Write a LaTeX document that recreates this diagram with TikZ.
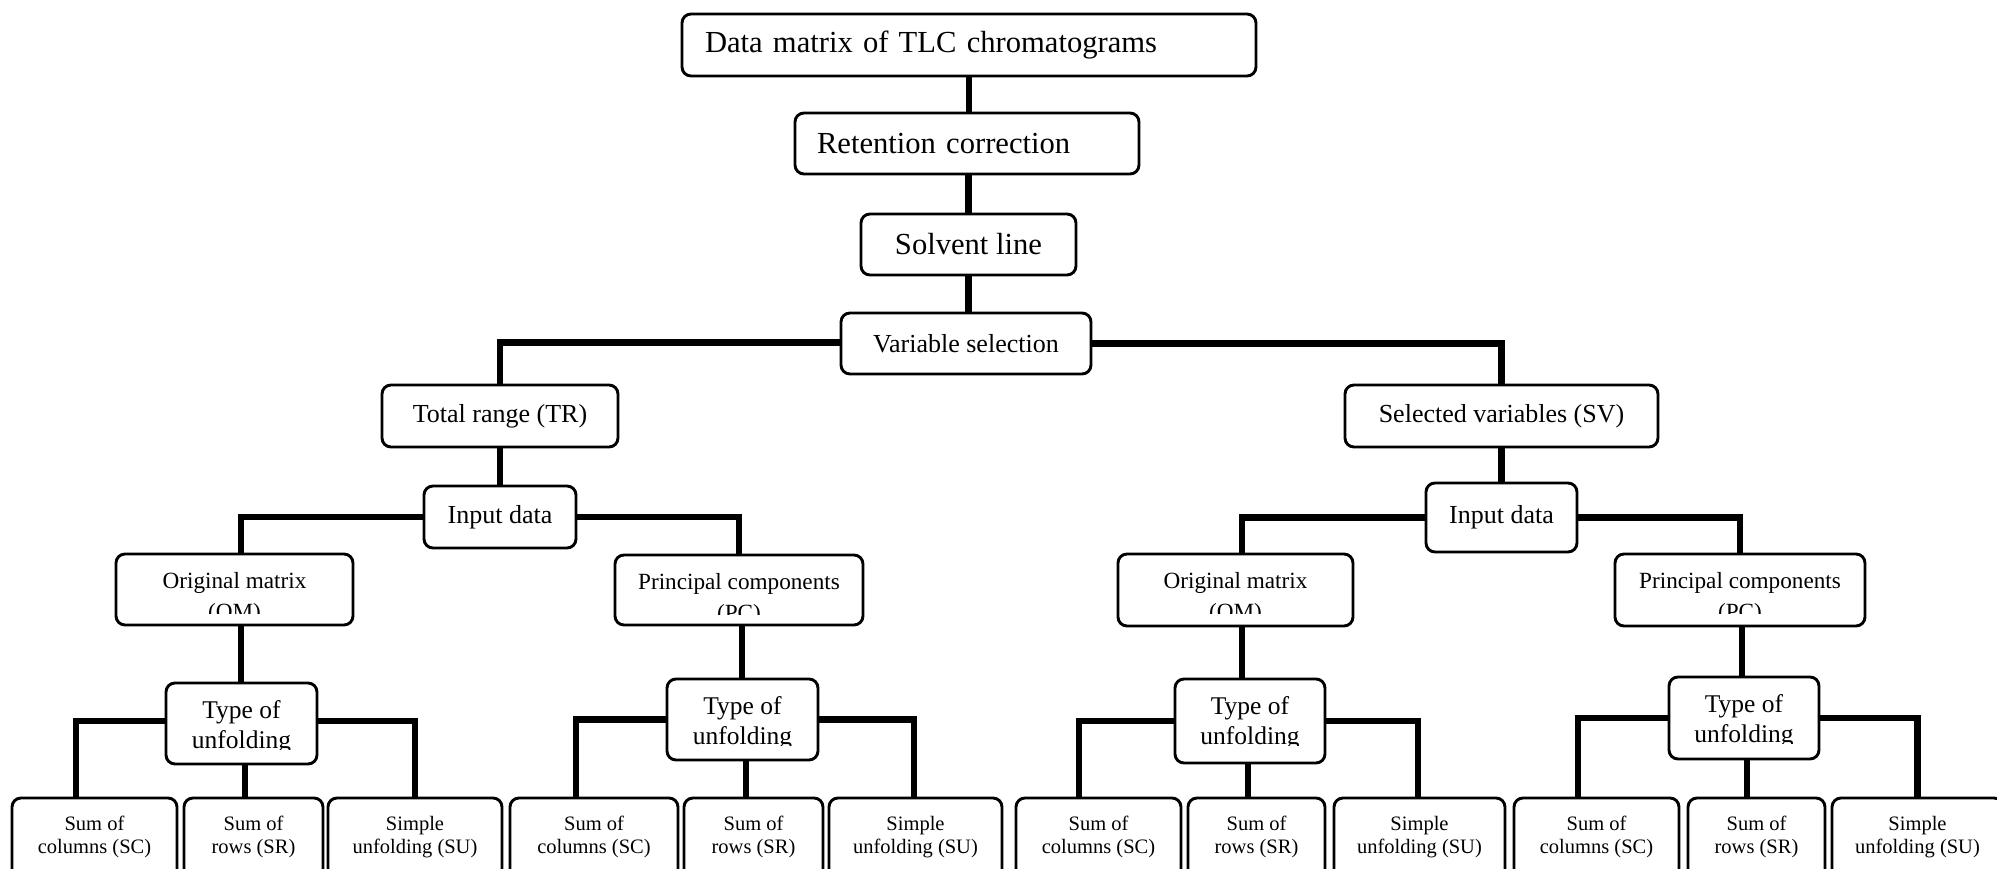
\documentclass[tikz,border=0pt]{standalone}
\usepackage{fontspec}
\setmainfont{Liberation Serif}
\usetikzlibrary{calc}
\pgfdeclarelayer{bg}
\pgfsetlayers{bg,main}
\tikzset{
  box/.style={draw, line width=2.9pt, rounded corners=9pt, fill=white, inner sep=0pt, align=center},
  conn/.style={line width=6.2pt},
  fA/.style={font=\fontsize{30.6}{36}\selectfont},
  fB/.style={font=\fontsize{26}{30}\selectfont},
  fC/.style={font=\fontsize{23.2}{31}\selectfont},
  fD/.style={font=\fontsize{25.5}{30}\selectfont},
  fE/.style={font=\fontsize{20.5}{23}\selectfont},
}
% box with text inside: [opts]{name}{l}{t}{r}{b}{text}
\newcommand\bx[7][]{\node[box,#1,minimum width={(#5-#3)*1pt},minimum height={(#6-#4)*1pt}] (#2) at ({(#3+#5)/2},{(#4+#6)/2}) {#7};}
% box with clipped two-line text: {name}{l}{t}{r}{b}{last baseline from top}{clip from top}{style}{text}
\newcommand\cbx[9]{%
  \node[box,minimum width={(#4-#2)*1pt},minimum height={(#5-#3)*1pt}] (#1) at ({(#2+#4)/2},{(#3+#5)/2}) {};
  \begin{scope}
    \clip (#2,#3) rectangle (#4,{#3+#7});
    \node[#8,align=center,anchor=base,inner sep=0pt] (#1t) at ({(#2+#4)/2},{#3+#6}) {#9};
  \end{scope}}
\begin{document}
\begin{tikzpicture}[x=1pt,y=-1pt]
\useasboundingbox (0,0) rectangle (1997,868);
\clip (0,0) rectangle (1997,868);

\bx[fA,text width={(1256-682-46)*1pt},inner xsep=23pt,align=left]{top}{682}{14}{1256}{76}{Data matrix of TLC chromatograms}
\bx[fA,text width={(1139-795-44)*1pt},inner xsep=22pt,align=left]{ret}{795}{113}{1139}{174}{Retention correction}
\bx[fA]{sol}{861}{214}{1076}{275}{Solvent line}
\bx[fB,yshift=2pt]{vs}{841}{315}{1091}{376}{Variable selection}
\bx[fB]{tr}{382}{385}{618}{447}{Total range (TR)}
\bx[fB]{sv}{1345}{385}{1658}{447}{Selected variables (SV)}
\bx[fB]{idL}{424}{486}{576}{548}{Input data}
\bx[fB]{idR}{1426}{483}{1577}{552}{Input data}

\cbx{omL}{116}{554}{353}{625}{65}{59}{fC}{Original matrix\\(OM)}
\cbx{pcL}{615}{555}{863}{625}{65}{59}{fC}{Principal components\\(PC)}
\cbx{omR}{1118}{554}{1353}{626}{65}{59}{fC}{Original matrix\\(OM)}
\cbx{pcR}{1615}{554}{1865}{626}{65}{59}{fC}{Principal components\\(PC)}

\cbx{tuA}{166}{683}{317}{764}{65}{66}{fD}{Type of\\unfolding}
\cbx{tuB}{667}{679}{818}{760}{65}{66}{fD}{Type of\\unfolding}
\cbx{tuC}{1175}{679}{1325}{763}{65}{66}{fD}{Type of\\unfolding}
\cbx{tuD}{1669}{677}{1819}{759}{65}{66}{fD}{Type of\\unfolding}

\cbx{scA}{12}{798}{177}{900}{55}{100}{fE}{Sum of\\columns (SC)}
\cbx{srA}{184}{798}{323}{900}{55}{100}{fE}{Sum of\\rows (SR)}
\cbx{suA}{328}{798}{502}{900}{55}{100}{fE}{Simple\\unfolding (SU)}
\cbx{scB}{510}{798}{678}{900}{55}{100}{fE}{Sum of\\columns (SC)}
\cbx{srB}{684}{798}{823}{900}{55}{100}{fE}{Sum of\\rows (SR)}
\cbx{suB}{829}{798}{1002}{900}{55}{100}{fE}{Simple\\unfolding (SU)}
\cbx{scC}{1016}{798}{1181}{900}{55}{100}{fE}{Sum of\\columns (SC)}
\cbx{srC}{1188}{798}{1325}{900}{55}{100}{fE}{Sum of\\rows (SR)}
\cbx{suC}{1334}{798}{1505}{900}{55}{100}{fE}{Simple\\unfolding (SU)}
\cbx{scD}{1514}{798}{1679}{900}{55}{100}{fE}{Sum of\\columns (SC)}
\cbx{srD}{1688}{798}{1825}{900}{55}{100}{fE}{Sum of\\rows (SR)}
\cbx{suD}{1832}{798}{2003}{900}{55}{100}{fE}{Simple\\unfolding (SU)}

\begin{pgfonlayer}{bg}
\fill[white] (0,0) rectangle (1997,868);
\draw[conn] (top.south) -- (top.south |- ret.north);
\draw[conn] (sol.north |- ret.south) -- (sol.north);
\draw[conn] (sol.south) -- (sol.south |- vs.north);
\draw[conn] ([yshift=1pt]vs.west) -| (tr.north);
\draw[conn] (vs.east) -| (sv.north);
\draw[conn] (tr.south) -- (tr.south |- idL.north);
\draw[conn] (sv.south) -- (sv.south |- idR.north);
\draw[conn] (idL.west) -| ([xshift=6.5pt]omL.north);
\draw[conn] (idL.east) -| (pcL.north);
\draw[conn] (idR.west) -| ([xshift=6.5pt]omR.north);
\draw[conn] (idR.east) -| (pcR.north);
\draw[conn] ([xshift=6.5pt]omL.south) -- ([xshift=6.5pt]omL.south |- tuA.north);
\draw[conn] ([xshift=3pt]pcL.south) -- ([xshift=3pt]pcL.south |- tuB.north);
\draw[conn] ([xshift=6.5pt]omR.south) -- ([xshift=6.5pt]omR.south |- tuC.north);
\draw[conn] ([xshift=2pt]pcR.south) -- ([xshift=2pt]pcR.south |- tuD.north);
% type of unfolding groups
\draw[conn] ([yshift=2.5pt]tuA.west) -| ([xshift=-18.5pt]scA.north);
\draw[conn] ([yshift=2.5pt]tuA.east) -| (suA.north);
\draw[conn] ([xshift=3.5pt]tuA.south) -- ([xshift=3.5pt]tuA.south |- srA.north);
\draw[conn] (tuB.west) -| ([xshift=-18pt]scB.north);
\draw[conn] (tuB.east) -| ([xshift=-1.5pt]suB.north);
\draw[conn] ([xshift=3.5pt]tuB.south) -- ([xshift=3.5pt]tuB.south |- srB.north);
\draw[conn] (tuC.west) -| ([xshift=-19.5pt]scC.north);
\draw[conn] (tuC.east) -| ([xshift=-1.5pt]suC.north);
\draw[conn] ([xshift=-2pt]tuC.south) -- ([xshift=-2pt]tuC.south |- srC.north);
\draw[conn] (tuD.west) -| ([xshift=-18.5pt]scD.north);
\draw[conn] (tuD.east) -| (suD.north);
\draw[conn] ([xshift=3pt]tuD.south) -- ([xshift=3pt]tuD.south |- srD.north);
\end{pgfonlayer}
\end{tikzpicture}
\end{document}
